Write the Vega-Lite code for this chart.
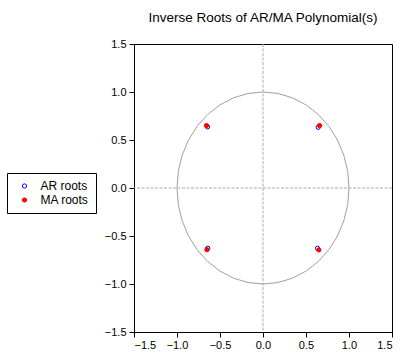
{
  "$schema": "https://vega.github.io/schema/vega-lite/v6.json",
  "width": 258,
  "height": 288,
  "autosize": "none",
  "padding": {"left": 134, "top": 44, "right": 10, "bottom": 28},
  "background": "white",
  "title": {"text": "Inverse Roots of AR/MA Polynomial(s)", "font": "Liberation Sans", "fontSize": 13.5, "fontWeight": "normal", "color": "#000000", "anchor": "middle", "frame": "group", "baseline": "alphabetic", "offset": 3},
  "config": {
    "view": {"stroke": "#000000", "strokeWidth": 1},
    "axis": {"grid": false, "domainColor": "#000000", "tickColor": "#000000", "labelColor": "#000000", "labelFont": "Liberation Sans", "labelFontSize": 11, "tickSize": 5, "title": null}
  },
  "datasets": {
    "zero": [{"v": 0}],
    "circle": [
      {"i": 0, "x": 1, "y": 0}, {"i": 1, "x": 0.9848, "y": 0.1736}, {"i": 2, "x": 0.9397, "y": 0.342}, {"i": 3, "x": 0.866, "y": 0.5}, {"i": 4, "x": 0.766, "y": 0.6428}, {"i": 5, "x": 0.6428, "y": 0.766}, {"i": 6, "x": 0.5, "y": 0.866}, {"i": 7, "x": 0.342, "y": 0.9397}, {"i": 8, "x": 0.1736, "y": 0.9848}, {"i": 9, "x": 0, "y": 1},
      {"i": 10, "x": -0.1736, "y": 0.9848}, {"i": 11, "x": -0.342, "y": 0.9397}, {"i": 12, "x": -0.5, "y": 0.866}, {"i": 13, "x": -0.6428, "y": 0.766}, {"i": 14, "x": -0.766, "y": 0.6428}, {"i": 15, "x": -0.866, "y": 0.5}, {"i": 16, "x": -0.9397, "y": 0.342}, {"i": 17, "x": -0.9848, "y": 0.1736}, {"i": 18, "x": -1, "y": 0},
      {"i": 19, "x": -0.9848, "y": -0.1736}, {"i": 20, "x": -0.9397, "y": -0.342}, {"i": 21, "x": -0.866, "y": -0.5}, {"i": 22, "x": -0.766, "y": -0.6428}, {"i": 23, "x": -0.6428, "y": -0.766}, {"i": 24, "x": -0.5, "y": -0.866}, {"i": 25, "x": -0.342, "y": -0.9397}, {"i": 26, "x": -0.1736, "y": -0.9848}, {"i": 27, "x": 0, "y": -1},
      {"i": 28, "x": 0.1736, "y": -0.9848}, {"i": 29, "x": 0.342, "y": -0.9397}, {"i": 30, "x": 0.5, "y": -0.866}, {"i": 31, "x": 0.6428, "y": -0.766}, {"i": 32, "x": 0.766, "y": -0.6428}, {"i": 33, "x": 0.866, "y": -0.5}, {"i": 34, "x": 0.9397, "y": -0.342}, {"i": 35, "x": 0.9848, "y": -0.1736}, {"i": 36, "x": 1, "y": 0}
    ],
    "roots": [
      {"series": "AR roots", "re": -0.645, "im": 0.637},
      {"series": "AR roots", "re": 0.642, "im": 0.633},
      {"series": "AR roots", "re": -0.643, "im": -0.628},
      {"series": "AR roots", "re": 0.634, "im": -0.628},
      {"series": "MA roots", "re": -0.657, "im": 0.65},
      {"series": "MA roots", "re": 0.658, "im": 0.65},
      {"series": "MA roots", "re": -0.652, "im": -0.643},
      {"series": "MA roots", "re": 0.649, "im": -0.645}
    ]
  },
  "layer": [
    {
      "data": {"name": "zero"},
      "mark": {"type": "rule", "color": "#ababab", "strokeDash": [3, 1.5], "strokeWidth": 1},
      "encoding": {"x": {"field": "v", "type": "quantitative"}}
    },
    {
      "data": {"name": "zero"},
      "mark": {"type": "rule", "color": "#ababab", "strokeDash": [3, 1.5], "strokeWidth": 1},
      "encoding": {"y": {"field": "v", "type": "quantitative"}}
    },
    {
      "data": {"name": "circle"},
      "mark": {"type": "line", "color": "#a0a0a0", "strokeWidth": 1},
      "encoding": {
        "x": {"field": "x", "type": "quantitative", "scale": {"domain": [-1.5, 1.5], "nice": false, "zero": false}, "axis": {"values": [-1.5, -1, -0.5, 0, 0.5, 1, 1.5], "format": ".1f", "labelPadding": 2}},
        "y": {"field": "y", "type": "quantitative", "scale": {"domain": [-1.5, 1.5], "nice": false, "zero": false}, "axis": {"values": [-1.5, -1, -0.5, 0, 0.5, 1, 1.5], "format": ".1f", "labelPadding": 3}},
        "order": {"field": "i", "type": "quantitative"}
      }
    },
    {
      "data": {"name": "roots"},
      "mark": {"type": "point", "shape": "circle", "size": 18, "strokeWidth": 1, "opacity": 1},
      "encoding": {
        "x": {"field": "re", "type": "quantitative"},
        "y": {"field": "im", "type": "quantitative"},
        "fill": {"field": "series", "type": "nominal", "scale": {"domain": ["AR roots", "MA roots"], "range": ["#ffffff", "#ff0000"]}, "legend": {"title": null, "orient": "none", "legendX": -127, "legendY": 129, "padding": 7, "strokeColor": "#000000", "fillColor": "#ffffff", "labelFont": "Liberation Sans", "labelFontSize": 12, "labelColor": "#000000", "symbolOffset": 4.5, "labelOffset": 10, "rowPadding": 2, "symbolSize": 18, "symbolStrokeWidth": 1}},
        "stroke": {"field": "series", "type": "nominal", "scale": {"domain": ["AR roots", "MA roots"], "range": ["#0000ff", "#ff0000"]}}
      }
    }
  ]
}
